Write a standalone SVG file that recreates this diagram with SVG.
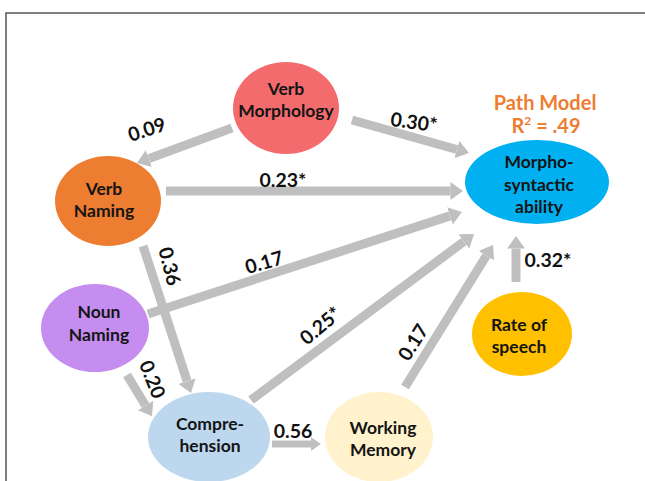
<svg xmlns="http://www.w3.org/2000/svg" width="645" height="481" viewBox="0 0 645 481">
<defs>
<style>
.node text{font-family:Lato,"Open Sans","Liberation Sans",sans-serif;font-weight:bold;font-size:17.5px;fill:#141414;text-anchor:middle}
.lbl{font-family:Lato,"Open Sans","Liberation Sans",sans-serif;font-weight:bold;font-size:19.5px;fill:#111;text-anchor:middle}
.edge{stroke:#BFBFBF;stroke-width:9;fill:none;marker-end:url(#ah)}
.title{font-family:Lato,"Open Sans","Liberation Sans",sans-serif;font-weight:bold;font-size:20px;fill:#ED7D31;text-anchor:middle}
</style>
<marker id="ah" viewBox="0 0 7 10" refX="0" refY="5" markerWidth="1.4" markerHeight="2" orient="auto" markerUnits="strokeWidth">
<path d="M0,0 L7,5 L0,10 z" fill="#BFBFBF"/>
</marker>
</defs>
<rect width="645" height="481" fill="#fff"/>
<path d="M6,481 V13 H645" fill="none" stroke="#555" stroke-width="1.5"/>
<g id="connectors">
<line class="edge" x1="232" y1="128" x2="148.8" y2="158.6"/>
<line class="edge" x1="352" y1="120" x2="456.9" y2="149.5"/>
<line class="edge" x1="166" y1="191" x2="450.4" y2="191"/>
<line class="edge" x1="148" y1="314" x2="450" y2="215.9"/>
<line class="edge" x1="143" y1="246" x2="187.1" y2="381"/>
<line class="edge" x1="127" y1="375" x2="145.5" y2="405.5"/>
<line class="edge" x1="251" y1="400" x2="463.9" y2="241.5"/>
<line class="edge" x1="405" y1="387" x2="486.4" y2="255.7"/>
<line class="edge" x1="516" y1="282" x2="516" y2="248.6"/>
<line class="edge" x1="272" y1="444" x2="311" y2="444" style="stroke-width:7"/>
<text class="lbl" transform="translate(149,136) rotate(-18)">0.09</text>
<text class="lbl" transform="translate(413,129) rotate(8)">0.30*</text>
<text class="lbl" x="283" y="187">0.23*</text>
<text class="lbl" transform="translate(266,269) rotate(-16)">0.17</text>
<text class="lbl" transform="translate(163,268) rotate(76)">0.36</text>
<text class="lbl" transform="translate(146,382) rotate(68)">0.20</text>
<text class="lbl" transform="translate(325,331) rotate(-40)">0.25*</text>
<text class="lbl" transform="translate(419,346) rotate(-58)">0.17</text>
<text class="lbl" x="548" y="267">0.32*</text>
<text class="lbl" x="293" y="438">0.56</text>
</g>
<g id="title">
<text class="title" x="545" y="110">Path Model</text>
<text class="title" x="546" y="133">R<tspan dy="-8" font-size="12">2</tspan><tspan dy="8"> = .49</tspan></text>
</g>
<g id="verb-morphology" class="node">
<ellipse cx="286" cy="108" rx="53" ry="46" fill="#F36B6D"/>
<text x="286" y="95">Verb</text>
<text x="286" y="117">Morphology</text>
</g>
<g id="verb-naming" class="node">
<ellipse cx="108" cy="201" rx="53" ry="45" fill="#ED7D31"/>
<text x="104" y="195">Verb</text>
<text x="104" y="217">Naming</text>
</g>
<g id="noun-naming" class="node">
<ellipse cx="95" cy="328" rx="54" ry="44" fill="#C58DF0"/>
<text x="99" y="318">Noun</text>
<text x="99" y="341">Naming</text>
</g>
<g id="comprehension" class="node">
<ellipse cx="209" cy="437" rx="61" ry="45" fill="#BDD7EE"/>
<text x="210" y="430">Compre-</text>
<text x="210" y="452">hension</text>
</g>
<g id="working-memory" class="node">
<ellipse cx="379" cy="437" rx="54" ry="45" fill="#FFF2CC"/>
<text x="383" y="434">Working</text>
<text x="383" y="456">Memory</text>
</g>
<g id="rate-of-speech" class="node">
<ellipse cx="522" cy="334" rx="50" ry="42" fill="#FFC000"/>
<text x="519" y="331">Rate of</text>
<text x="519" y="353">speech</text>
</g>
<g id="morpho-syntactic" class="node">
<ellipse cx="537" cy="182" rx="72" ry="42" fill="#00B0F0"/>
<text x="539" y="168">Morpho-</text>
<text x="539" y="191">syntactic</text>
<text x="539" y="213">ability</text>
</g>
</svg>
